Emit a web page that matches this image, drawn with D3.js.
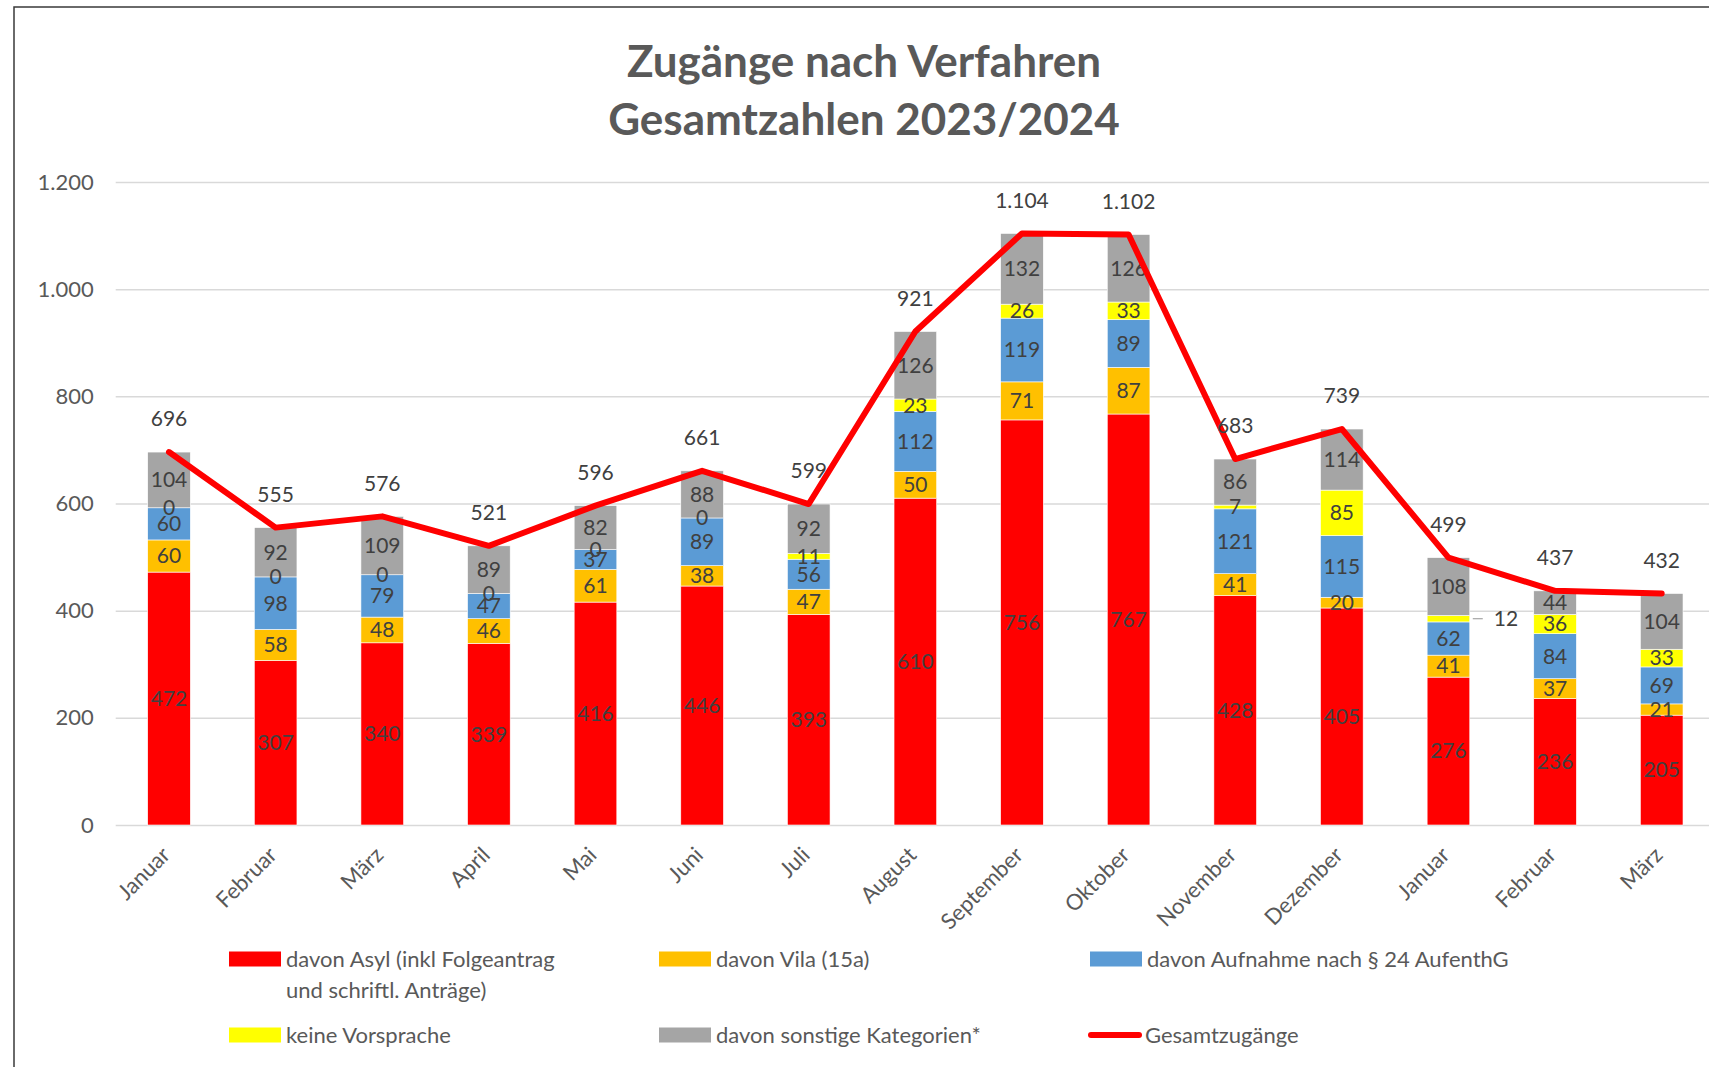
<!DOCTYPE html>
<html>
<head>
<meta charset="utf-8">
<script src="https://cdn.jsdelivr.net/npm/d3@7"></script>
<style>
  body { margin: 0; background: #fff; }
  svg { display: block; font-family: Lato, "Open Sans", sans-serif; }
</style>
</head>
<body>
<div id="chart"></div>
<script>
const months = ["Januar", "Februar", "März", "April", "Mai", "Juni", "Juli", "August",
  "September", "Oktober", "November", "Dezember", "Januar", "Februar", "März"]

const asyl = [472, 307, 340, 339, 416, 446, 393, 610, 756, 767, 428, 405, 276, 236, 205]
const vila = [60, 58, 48, 46, 61, 38, 47, 50, 71, 87, 41, 20, 41, 37, 21]
const aufnahme = [60, 98, 79, 47, 37, 89, 56, 112, 119, 89, 121, 115, 62, 84, 69]
const keineVorsprache = [0, 0, 0, 0, 0, 0, 11, 23, 26, 33, 7, 85, 12, 36, 33]
const sonstige = [104, 92, 109, 89, 82, 88, 92, 126, 132, 126, 86, 114, 108, 44, 104]
const gesamt = [696, 555, 576, 521, 596, 661, 599, 921, 1104, 1102, 683, 739, 499, 437, 432]

const yTicks = [0, 200, 400, 600, 800, 1000, 1200]

const seriesNames = ["davon Asyl (inkl Folgeantrag|und schriftl. Anträge)", "davon Vila (15a)",
  "davon Aufnahme nach § 24 AufenthG", "keine Vorsprache", "davon sonstige Kategorien*"]
const lineName = "Gesamtzugänge"
const colors = ["#FF0000", "#FFC000", "#5B9BD5", "#FFFF00", "#A5A5A5"]

const W = 1709, H = 1067
const PLOT = { LEFT: 115.7, RIGHT: 1715, TOP: 182, BOTTOM: 825 }
const TEXT = "#404040", AXISTEXT = "#595959"

const fmt = d3.formatLocale({ decimal: ",", thousands: ".", grouping: [3], currency: ["", "€"] }).format(",")

const svg = d3.select("#chart").append("svg")
  .attr("width", W).attr("height", H)

// chart frame
svg.append("path")
  .attr("d", `M14,${H} L14,7 L${W},7`)
  .attr("fill", "none").attr("stroke", "#3a3a3a").attr("stroke-width", 1.5)

// title
const title = svg.append("text")
  .attr("x", 864).attr("text-anchor", "middle")
  .attr("font-size", 44).attr("font-weight", 700).attr("fill", AXISTEXT)
title.append("tspan").attr("x", 864).attr("y", 77).text("Zugänge nach Verfahren")
title.append("tspan").attr("x", 864).attr("y", 135).text("Gesamtzahlen 2023/2024")

const x = d3.scaleBand()
  .domain(d3.range(months.length))
  .range([PLOT.LEFT, PLOT.RIGHT])
  .paddingInner(0.6)
  .paddingOuter(0.3)

const y = d3.scaleLinear()
  .domain([0, 1200])
  .range([PLOT.BOTTOM, PLOT.TOP])

// y axis + gridlines
const yAxis = svg.append("g")
  .attr("transform", `translate(${PLOT.LEFT},0)`)
  .call(d3.axisLeft(y).tickValues(yTicks).tickFormat(fmt)
    .tickSize(-(W - PLOT.LEFT)).tickPadding(22))
yAxis.select(".domain").remove()
yAxis.selectAll(".tick line").attr("stroke", "#D9D9D9").attr("stroke-width", 1.5)
yAxis.selectAll(".tick text").attr("fill", AXISTEXT).attr("font-size", 22)
  .attr("font-family", "Lato, sans-serif")

// x axis labels
const xAxis = svg.append("g")
  .attr("transform", `translate(0,${PLOT.BOTTOM})`)
  .call(d3.axisBottom(x).tickFormat(i => months[i]).tickSize(0))
xAxis.select(".domain").remove()
xAxis.selectAll(".tick text")
  .attr("fill", AXISTEXT).attr("font-size", 22).attr("font-family", "Lato, sans-serif")
  .attr("text-anchor", "end")
  .attr("y", 0).attr("dy", "0.35em")
  .attr("transform", "translate(-3,26) rotate(-45)")

// stacked bars
const rows = months.map((m, i) => ({
  i, s0: asyl[i], s1: vila[i], s2: aufnahme[i], s3: keineVorsprache[i], s4: sonstige[i]
}))
const stack = d3.stack().keys(["s0", "s1", "s2", "s3", "s4"])(rows)

const layers = svg.append("g").selectAll("g")
  .data(stack)
  .join("g")
    .attr("fill", (d, k) => colors[k])

layers.selectAll("rect")
  .data(d => d)
  .join("rect")
    .attr("x", d => x(d.data.i))
    .attr("y", d => y(d[1]))
    .attr("width", x.bandwidth())
    .attr("height", d => y(d[0]) - y(d[1]))
    .attr("stroke", "#fff").attr("stroke-width", 0.6)

// segment labels
const labels = svg.append("g")
  .attr("font-size", 21).attr("fill", TEXT).attr("text-anchor", "middle")
stack.forEach((layer, k) => {
  layer.forEach(d => {
    const v = d[1] - d[0]
    const i = d.data.i
    // yellow series: zeros shown only in 2023 up to June
    if (k === 3 && v === 0 && i > 5) return
    const cy = (y(d[0]) + y(d[1])) / 2
    if (k === 3 && i === 12) {
      // callout outside the bar
      const x0 = x(i) + x.bandwidth() + 3
      labels.append("line")
        .attr("x1", x0).attr("x2", x0 + 10).attr("y1", cy).attr("y2", cy)
        .attr("stroke", "#A5A5A5").attr("stroke-width", 1.2)
      labels.append("text").attr("x", x0 + 21).attr("y", cy).attr("dy", "0.35em")
        .attr("text-anchor", "start").text(fmt(v))
      return
    }
    labels.append("text")
      .attr("x", x(i) + x.bandwidth() / 2)
      .attr("y", cy).attr("dy", "0.35em")
      .text(fmt(v))
  })
})

// total line
const cx = i => x(i) + x.bandwidth() / 2
const line = d3.line()
  .x((d, i) => cx(i))
  .y(d => y(d))

svg.append("path")
  .datum(gesamt)
  .attr("d", line)
  .attr("fill", "none").attr("stroke", "#FF0000")
  .attr("stroke-width", 6).attr("stroke-linejoin", "round").attr("stroke-linecap", "round")

svg.append("g").selectAll("text")
  .data(gesamt)
  .join("text")
    .attr("x", (d, i) => cx(i))
    .attr("y", d => y(d) - 33).attr("dy", "0.35em")
    .attr("text-anchor", "middle").attr("font-size", 21).attr("fill", TEXT)
    .text(d => fmt(d))

// legend
const legendPos = [[229, 959], [659, 959], [1090, 959], [229, 1035], [659, 1035]]
const legend = svg.append("g").attr("font-size", 22).attr("fill", AXISTEXT)
seriesNames.forEach((name, k) => {
  const [lx, ly] = legendPos[k]
  legend.append("rect")
    .attr("x", lx).attr("y", ly - 7.5).attr("width", 52).attr("height", 15)
    .attr("fill", colors[k])
  name.split("|").forEach((part, j) => {
    legend.append("text")
      .attr("x", lx + 57).attr("y", ly + j * 31).attr("dy", "0.35em")
      .text(part)
  })
})
legend.append("line")
  .attr("x1", 1091).attr("x2", 1139).attr("y1", 1035).attr("y2", 1035)
  .attr("stroke", "#FF0000").attr("stroke-width", 6).attr("stroke-linecap", "round")
legend.append("text")
  .attr("x", 1145).attr("y", 1035).attr("dy", "0.35em")
  .text(lineName)
</script>
</body>
</html>
